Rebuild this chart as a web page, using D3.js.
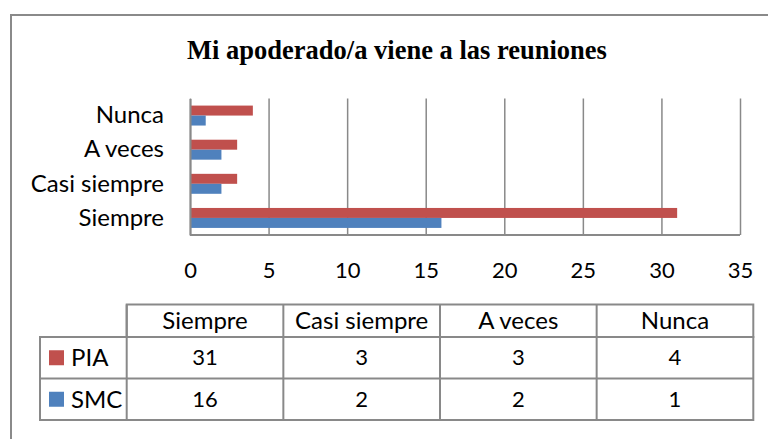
<!DOCTYPE html>
<html>
<head>
<meta charset="utf-8">
<script src="https://cdn.jsdelivr.net/npm/d3@7"></script>
<style>
  body { margin: 0; background: #fff; }
  svg { display: block; }
</style>
</head>
<body>
<div id="chart"></div>
<script>
var w = 768;
var h = 439;

// data
var categories = ["Siempre", "Casi siempre", "A veces", "Nunca"];
var seriesNames = ["PIA", "SMC"];
var piaValues = [31, 3, 3, 4];
var smcValues = [16, 2, 2, 1];
var xTicks = [0, 5, 10, 15, 20, 25, 30, 35];
var title = "Mi apoderado/a viene a las reuniones";

var colors = {PIA: "#c0504d", SMC: "#4f81bd"},
    gridColor = "#898989",
    labelFont = "Lato, 'Open Sans', sans-serif",
    wordSize = "24px",   // words look wider than digits in the picture
    numberSize = "22px";

var seriesValues = {PIA: piaValues, SMC: smcValues};

var svg = d3.select("#chart")
    .append("svg")
    .attr("width", w)
    .attr("height", h);

// chart frame (only top and left show in the picture)
svg.append("path")
    .attr("d", "M11,439 V15 H768")
    .attr("fill", "none")
    .attr("stroke", "#8a8a8a")
    .attr("stroke-width", 2);

svg.append("text")
    .attr("x", 397)
    .attr("y", 59)
    .attr("text-anchor", "middle")
    .style("font-family", "'Liberation Serif', 'Times New Roman', serif")
    .style("font-weight", "bold")
    .style("font-size", "26.5px")
    .text(title);

var plot = {left: 190, right: 740, top: 98.5, bottom: 235};

var x = d3.scaleLinear()
    .domain([0, 35])
    .range([plot.left, plot.right]);

var y = d3.scaleBand()
    .domain(categories.slice().reverse())
    .range([plot.top, plot.bottom])
    .paddingInner(0.415)
    .paddingOuter(0.2075);

var ySub = d3.scaleBand()
    .domain(seriesNames)
    .range([0, y.bandwidth()]);

// vertical gridlines
svg.append("g")
    .attr("transform", "translate(0," + plot.bottom + ")")
    .call(d3.axisBottom(x).tickValues(xTicks).tickSize(-(plot.bottom - plot.top)).tickFormat(""))
    .call(function(g) { g.select(".domain").remove(); })
    .selectAll(".tick line")
      .attr("stroke", gridColor)
      .attr("stroke-width", 1.5);

// x tick labels
svg.append("g")
    .attr("transform", "translate(0," + plot.bottom + ")")
    .call(d3.axisBottom(x).tickValues(xTicks).tickSize(0).tickPadding(27))
    .call(function(g) { g.select(".domain").remove(); })
    .selectAll("text")
      .attr("fill", "#000")
      .style("font-family", labelFont)
      .style("font-size", numberSize);

// bars
var groups = svg.append("g")
  .selectAll("g")
  .data(categories)
  .enter().append("g")
    .attr("transform", function(d) { return "translate(0," + y(d) + ")"; });

groups.selectAll("rect")
  .data(function(d, i) {
    return seriesNames.map(function(s) { return {series: s, value: seriesValues[s][i]}; });
  })
  .enter().append("rect")
    .attr("x", x(0))
    .attr("y", function(d) { return ySub(d.series); })
    .attr("width", function(d) { return x(d.value) - x(0); })
    .attr("height", ySub.bandwidth())
    .attr("fill", function(d) { return colors[d.series]; });

// category axis
svg.append("g")
    .attr("transform", "translate(" + plot.left + ",0)")
    .call(d3.axisLeft(y).tickSize(0).tickPadding(26))
    .call(function(g) {
      g.select(".domain").attr("stroke", gridColor).attr("stroke-width", 2);
    })
    .selectAll("text")
      .attr("fill", "#000")
      .style("font-family", labelFont)
      .style("font-size", wordSize);

// horizontal base line
svg.append("line")
    .attr("x1", plot.left).attr("x2", plot.right)
    .attr("y1", plot.bottom).attr("y2", plot.bottom)
    .attr("stroke", gridColor)
    .attr("stroke-width", 2);

// data table
var tableLeft = 40,
    rowLines = [304.5, 337, 378.5, 420];

var col = d3.scaleBand()
    .domain(categories)
    .range([126.7, 753.3]);

var table = svg.append("g")
    .attr("stroke", gridColor)
    .attr("stroke-width", 2)
    .attr("fill", "none");

table.append("rect")
    .attr("x", col.range()[0]).attr("y", rowLines[0])
    .attr("width", col.range()[1] - col.range()[0]).attr("height", rowLines[1] - rowLines[0]);
table.append("rect")
    .attr("x", tableLeft).attr("y", rowLines[1])
    .attr("width", col.range()[1] - tableLeft).attr("height", rowLines[3] - rowLines[1]);
table.append("line")
    .attr("x1", tableLeft).attr("x2", col.range()[1])
    .attr("y1", rowLines[2]).attr("y2", rowLines[2]);
table.selectAll("line.col")
  .data(categories)
  .enter().append("line")
    .attr("class", "col")
    .attr("x1", function(d) { return col(d); })
    .attr("x2", function(d) { return col(d); })
    .attr("y1", rowLines[0]).attr("y2", rowLines[3]);

var cellText = function(sel, size) {
  sel.attr("text-anchor", "middle")
     .attr("dy", "0.35em")
     .attr("fill", "#000")
     .style("font-family", labelFont)
     .style("font-size", size);
};

svg.append("g").selectAll("text")
  .data(categories)
  .enter().append("text")
    .attr("x", function(d) { return col(d) + col.bandwidth() / 2; })
    .attr("y", (rowLines[0] + rowLines[1]) / 2)
    .call(cellText, wordSize)
    .text(function(d) { return d; });

seriesNames.forEach(function(s, r) {
  var cy = (rowLines[r + 1] + rowLines[r + 2]) / 2;
  svg.append("rect")
      .attr("x", 49).attr("y", cy - 7.5)
      .attr("width", 15).attr("height", 15)
      .attr("fill", colors[s]);
  svg.append("text")
      .attr("x", 71).attr("y", cy)
      .attr("dy", "0.35em")
      .attr("fill", "#000")
      .style("font-family", labelFont)
      .style("font-size", wordSize)
      .text(s);
  svg.append("g").selectAll("text")
    .data(categories)
    .enter().append("text")
      .attr("x", function(d) { return col(d) + col.bandwidth() / 2; })
      .attr("y", cy)
      .call(cellText, numberSize)
      .text(function(d, i) { return seriesValues[s][i]; });
});
</script>
</body>
</html>
